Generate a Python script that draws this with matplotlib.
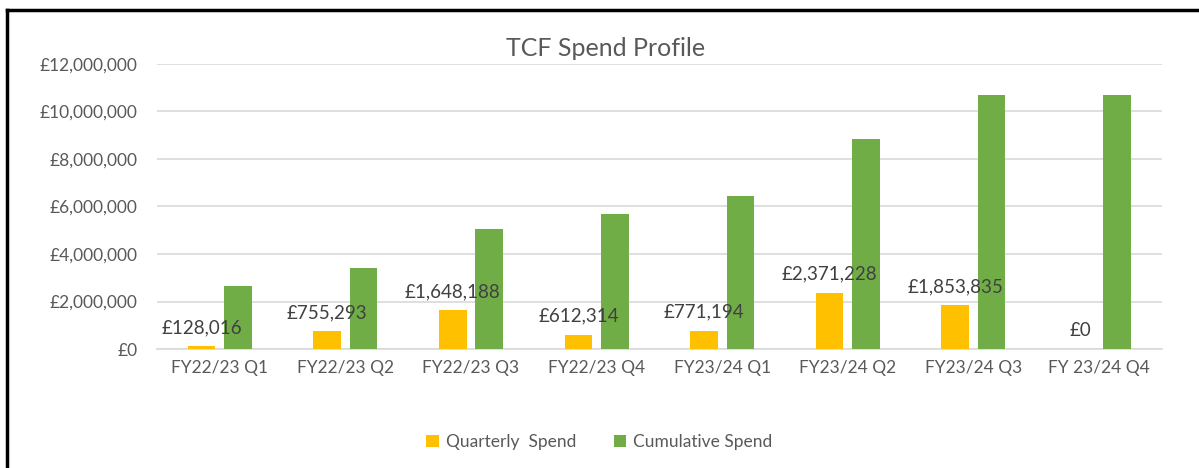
import matplotlib.pyplot as plt
import numpy as np
from matplotlib.lines import Line2D
from matplotlib.ticker import FuncFormatter

# Datos del grafico
quarters = ["FY22/23 Q1", "FY22/23 Q2", "FY22/23 Q3", "FY22/23 Q4",
            "FY23/24 Q1", "FY23/24 Q2", "FY23/24 Q3", "FY 23/24 Q4"]
quarterly = [128016, 755293, 1648188, 612314, 771194, 2371228, 1853835, 0]
cumulative = [2660000, 3415293, 5063481, 5675795, 6446989, 8818217, 10672052, 10672052]

yellow = "#FFC000"
green = "#70AD47"
grey = "#595959"

plt.rcParams["font.family"] = ["Lato", "DejaVu Sans"]

fig = plt.figure(figsize=(11.99, 4.68), dpi=100)
ax = fig.add_axes([0.131, 0.254, 0.838, 0.61])

x = np.arange(len(quarters))
w = 0.22
ax.bar(x - 0.145, quarterly, w, color=yellow, label="Quarterly  Spend", zorder=3)
ax.bar(x + 0.145, cumulative, w, color=green, label="Cumulative Spend", zorder=3)

# Etiquetas de datos sobre las barras amarillas
for xi, v in zip(x, quarterly):
    ax.text(xi - 0.145, v + 420000, "£{:,}".format(v), ha="center", va="bottom",
            fontsize=13.5, color="#404040", zorder=4)

ax.set_xlim(-0.5, len(quarters) - 0.5)
ax.set_ylim(0, 12000000)
ax.set_yticks(range(0, 12000001, 2000000))
ax.yaxis.set_major_formatter(FuncFormatter(lambda v, p: "£{:,.0f}".format(v)))
ax.set_xticks(x)
ax.set_xticklabels(quarters)
ax.tick_params(axis="both", length=0, labelsize=12.5, colors=grey, pad=8)
ax.tick_params(axis="y", pad=14)
ax.grid(axis="y", color="#D9D9D9", linewidth=1.2, zorder=0)
for s in ["top", "right", "left"]:
    ax.spines[s].set_visible(False)
ax.spines["bottom"].set_color("#D9D9D9")
ax.spines["bottom"].set_linewidth(1.2)

fig.text(0.505, 0.897, "TCF Spend Profile", ha="center", va="center", fontsize=18, color=grey)

leg = fig.legend(loc="center", bbox_to_anchor=(0.5, 0.055), ncol=2, frameon=False,
                 fontsize=12.5, handlelength=0.7, handleheight=0.7, columnspacing=2.2,
                 handletextpad=0.4)
for t in leg.get_texts():
    t.set_color(grey)

# Marco negro (solo arriba e izquierda visibles)
fig.add_artist(Line2D([0.006, 1.0], [0.979, 0.979], color="black", linewidth=2.5))
fig.add_artist(Line2D([0.006, 0.006], [0.0, 0.979], color="black", linewidth=2.5))

fig.savefig("out.png", dpi=100)
